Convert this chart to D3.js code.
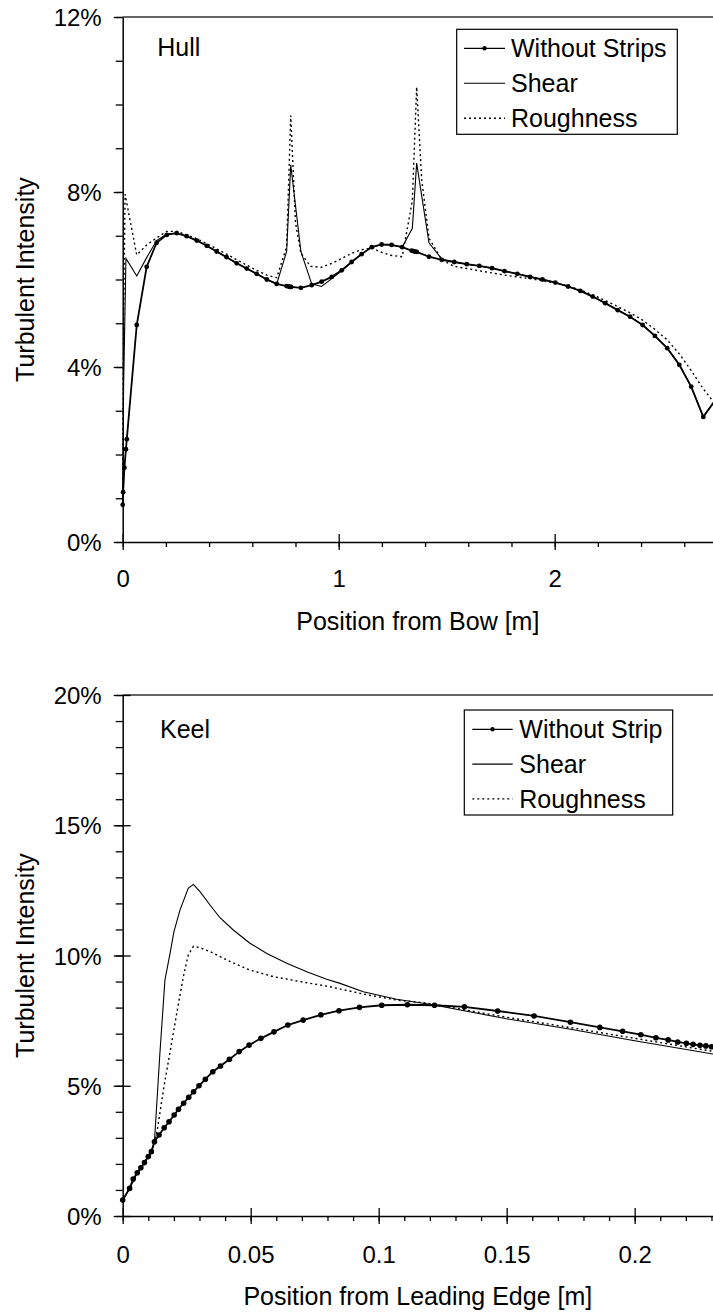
<!DOCTYPE html>
<html><head><meta charset="utf-8">
<script src="https://cdn.jsdelivr.net/npm/d3@7"></script>
<style>
html,body{margin:0;padding:0;background:#fff;}
svg{display:block;font-family:"Liberation Sans",Arial,sans-serif;}
</style></head>
<body>
<svg id="chart" width="713" height="1315"></svg>
<script>
// ---------- DATA ----------
// Hull panel: [position m, turbulent intensity %]
const hullWithout = [[0,0.85],[0.002,1.14],[0.008,1.70],[0.015,2.12],[0.019,2.35],[0.065,4.96],[0.111,6.29],[0.157,6.84],[0.204,7.02],[0.25,7.06],[0.296,6.99],[0.343,6.89],[0.389,6.77],[0.435,6.64],[0.481,6.51],[0.528,6.37],[0.574,6.25],[0.620,6.13],[0.667,6.00],[0.713,5.90],[0.759,5.85],[0.768,5.84],[0.775,5.83],[0.780,5.83],[0.825,5.81],[0.875,5.87],[0.921,5.95],[0.968,6.06],[1.014,6.21],[1.06,6.40],[1.106,6.58],[1.153,6.74],[1.199,6.80],[1.245,6.79],[1.294,6.74],[1.338,6.66],[1.345,6.65],[1.352,6.64],[1.361,6.63],[1.418,6.52],[1.477,6.45],[1.535,6.40],[1.593,6.35],[1.651,6.31],[1.710,6.26],[1.768,6.19],[1.827,6.13],[1.886,6.06],[1.944,6.00],[2.003,5.93],[2.062,5.84],[2.119,5.74],[2.176,5.61],[2.234,5.46],[2.292,5.30],[2.349,5.15],[2.407,4.96],[2.464,4.71],[2.521,4.43],[2.577,4.05],[2.632,3.55],[2.688,2.86],[2.745,3.25]];
const hullShear = [[0,0.85],[0.004,3.5],[0.015,6.48],[0.065,6.08],[0.111,6.5],[0.157,6.89],[0.204,7.04],[0.25,7.06],[0.296,6.99],[0.343,6.89],[0.389,6.77],[0.435,6.64],[0.481,6.51],[0.528,6.37],[0.574,6.25],[0.620,6.13],[0.667,6.00],[0.713,5.90],[0.759,6.64],[0.778,8.62],[0.825,6.64],[0.875,5.90],[0.921,5.84],[0.968,6.02],[1.014,6.20],[1.06,6.40],[1.106,6.58],[1.153,6.74],[1.199,6.80],[1.245,6.79],[1.294,6.74],[1.341,7.17],[1.361,8.66],[1.418,6.84],[1.477,6.47],[1.535,6.40],[1.593,6.35],[1.651,6.31],[1.710,6.26],[1.768,6.19],[1.827,6.13],[1.886,6.06],[1.944,6.00],[2.003,5.93],[2.062,5.84],[2.119,5.74],[2.176,5.61],[2.234,5.46],[2.292,5.30],[2.349,5.15],[2.407,4.96],[2.464,4.71],[2.521,4.43],[2.577,4.05],[2.632,3.55],[2.688,2.86],[2.745,3.25]];
const hullRough = [[0,0.85],[0.004,5.0],[0.011,7.95],[0.065,6.56],[0.111,6.79],[0.157,6.95],[0.204,7.10],[0.25,7.10],[0.296,7.02],[0.343,6.93],[0.389,6.82],[0.435,6.70],[0.481,6.58],[0.528,6.45],[0.574,6.33],[0.620,6.21],[0.667,6.10],[0.713,6.04],[0.759,6.75],[0.778,9.75],[0.80,7.3],[0.825,6.6],[0.87,6.3],[0.92,6.28],[0.968,6.37],[1.014,6.48],[1.06,6.6],[1.106,6.68],[1.153,6.72],[1.199,6.62],[1.245,6.55],[1.294,6.52],[1.341,7.8],[1.361,10.4],[1.384,8.3],[1.418,6.95],[1.477,6.45],[1.535,6.3],[1.593,6.25],[1.651,6.2],[1.710,6.15],[1.768,6.1],[1.827,6.06],[1.886,6.02],[1.944,5.97],[2.003,5.92],[2.062,5.85],[2.119,5.76],[2.176,5.65],[2.234,5.52],[2.292,5.38],[2.349,5.24],[2.407,5.07],[2.464,4.86],[2.521,4.62],[2.577,4.30],[2.632,3.92],[2.688,3.50],[2.733,3.22]];

// Keel panel
const keelWithout = [[0,0.61],[0.0027,1.06],[0.0041,1.42],[0.0057,1.66],[0.0071,1.85],[0.0085,2.05],[0.0100,2.28],[0.0112,2.47],[0.0124,2.85],[0.0142,3.11],[0.0162,3.39],[0.0181,3.62],[0.0201,3.88],[0.0218,4.10],[0.0238,4.33],[0.0258,4.56],[0.0277,4.77],[0.0298,5.00],[0.0323,5.25],[0.0352,5.54],[0.0382,5.76],[0.0417,6.02],[0.0455,6.31],[0.0494,6.56],[0.054,6.82],[0.0591,7.07],[0.0645,7.33],[0.0705,7.52],[0.0774,7.72],[0.0845,7.88],[0.0925,8.01],[0.1012,8.09],[0.1112,8.11],[0.1218,8.09],[0.1335,8.03],[0.1465,7.87],[0.1607,7.68],[0.1749,7.44],[0.1864,7.24],[0.1953,7.09],[0.2024,6.96],[0.2083,6.84],[0.2131,6.76],[0.2168,6.68],[0.2202,6.63],[0.2228,6.59],[0.2255,6.55],[0.2278,6.53],[0.2300,6.50]];
const keelShear = [[0,0.61],[0.0027,1.06],[0.0057,1.66],[0.0085,2.05],[0.0112,2.47],[0.0124,2.85],[0.0135,4.6],[0.0145,6.2],[0.0165,9.06],[0.0185,10.08],[0.02,10.91],[0.0224,11.75],[0.0256,12.58],[0.0276,12.73],[0.0302,12.45],[0.0341,11.94],[0.038,11.45],[0.0432,10.98],[0.0497,10.47],[0.0563,10.08],[0.0641,9.70],[0.0719,9.38],[0.0797,9.09],[0.0849,8.93],[0.094,8.61],[0.107,8.32],[0.12,8.13],[0.15,7.57],[0.175,7.17],[0.2,6.73],[0.2306,6.22]];
const keelRough = [[0,0.61],[0.0027,1.06],[0.0057,1.66],[0.0085,2.05],[0.0112,2.47],[0.0124,2.85],[0.0135,3.3],[0.016,4.9],[0.0185,6.3],[0.0211,7.78],[0.0237,9.19],[0.0256,10.02],[0.0276,10.35],[0.0302,10.3],[0.0341,10.15],[0.0406,9.83],[0.0497,9.44],[0.0588,9.19],[0.0693,9.0],[0.081,8.8],[0.094,8.52],[0.107,8.29],[0.119,8.17],[0.15,7.63],[0.175,7.23],[0.2,6.82],[0.2306,6.32]];

const hullXTicks = [0,1,2];
const hullYTicks = [0,4,8,12];
const keelXTicks = [0,0.05,0.1,0.15,0.2];
const keelYTicks = [0,5,10,15,20];
const hullLegend = ["Without Strips","Shear","Roughness"];
const keelLegend = ["Without Strip","Shear","Roughness"];

// ---------- DRAW ----------
const svg = d3.select("#chart");

function panel(o){
  const g = svg.append("g");
  const x = d3.scaleLinear().domain(o.xDomain).range([122.7,713]);
  const y = d3.scaleLinear().domain(o.yDomain).range([o.y0,o.y1]);
  const clipId = "clip"+o.id;
  svg.append("clipPath").attr("id",clipId).append("rect")
    .attr("x",100).attr("y",o.y1-20).attr("width",713-100).attr("height",o.y0-o.y1+40);

  // top border
  g.append("line").attr("x1",122.7).attr("x2",713).attr("y1",o.y1).attr("y2",o.y1)
    .attr("stroke","#333").attr("stroke-width",1.3);

  // minor ticks
  g.append("g").attr("transform",`translate(0,${o.y0})`)
    .call(d3.axisBottom(x).tickValues(o.xMinor).tickSize(5).tickFormat(""))
    .call(s=>s.select(".domain").remove());
  g.append("g").attr("transform",`translate(122.7,0)`)
    .call(d3.axisLeft(y).tickValues(o.yMinor).tickSize(7).tickFormat(""))
    .call(s=>s.select(".domain").remove());
  // major inner ticks (crossing)
  g.append("g").attr("transform",`translate(0,${o.y0})`)
    .call(d3.axisBottom(x).tickValues(o.xTicks).tickSize(-8).tickFormat(""))
    .call(s=>s.select(".domain").remove());
  if(o.yCross){
    g.append("g").attr("transform",`translate(122.7,0)`)
      .call(d3.axisLeft(y).tickValues(o.yTicks).tickSize(-8).tickFormat(""))
      .call(s=>s.select(".domain").remove());
  }
  // major axes
  const xa = g.append("g").attr("transform",`translate(0,${o.y0})`)
    .call(d3.axisBottom(x).tickValues(o.xTicks).tickSize(8).tickSizeOuter(0).tickPadding(o.xPad).tickFormat(o.xFmt));
  const ya = g.append("g").attr("transform",`translate(122.7,0)`)
    .call(d3.axisLeft(y).tickValues(o.yTicks).tickSize(9).tickSizeOuter(0).tickPadding(12).tickFormat(d=>d+"%"));
  [xa,ya].forEach(a=>{
    a.selectAll("text").attr("font-size",24).attr("font-family","Liberation Sans, Arial, sans-serif").attr("fill","#000");
    a.selectAll("line").attr("stroke","#000").attr("stroke-width",1.3);
    a.select(".domain").attr("stroke","#000").attr("stroke-width",1.5);
  });
  ya.selectAll("text").attr("dy","0.36em");
  g.selectAll(".tick line").attr("stroke","#000").attr("stroke-width",1.3);

  // titles
  g.append("text").attr("x",(122.7+713)/2).attr("y",o.xTitleY).attr("text-anchor","middle")
    .attr("font-size",25).text(o.xTitle);
  g.append("text").attr("transform",`translate(34,${(o.y0+o.y1)/2}) rotate(-90)`)
    .attr("text-anchor","middle").attr("font-size",25).text("Turbulent Intensity");
  g.append("text").attr("x",o.nameX).attr("y",o.nameY).attr("font-size",25).text(o.name);

  // series
  const line = d3.line().x(d=>x(d[0])).y(d=>y(d[1]));
  const sg = g.append("g").attr("clip-path",`url(#${clipId})`);
  sg.append("path").datum(o.rough).attr("d",line).attr("fill","none")
    .attr("stroke","#000").attr("stroke-width",1.4).attr("stroke-dasharray","2,3");
  sg.append("path").datum(o.shear).attr("d",line).attr("fill","none")
    .attr("stroke","#000").attr("stroke-width",1.1);
  sg.append("path").datum(o.without).attr("d",line).attr("fill","none")
    .attr("stroke","#000").attr("stroke-width",1.8);
  sg.selectAll("circle").data(o.without).join("circle")
    .attr("cx",d=>x(d[0])).attr("cy",d=>y(d[1])).attr("r",o.r).attr("fill","#000");

  // legend
  const L = o.legend;
  g.append("rect").attr("x",L.x0).attr("y",L.y0).attr("width",L.x1-L.x0).attr("height",L.y1-L.y0)
    .attr("fill","#fff").attr("stroke","#000").attr("stroke-width",1.2);
  o.legendLabels.forEach((lab,i)=>{
    const cy = L.row0 + i*L.step;
    const ln = g.append("line").attr("x1",L.s0).attr("x2",L.s1).attr("y1",cy).attr("y2",cy)
      .attr("stroke","#000");
    if(i===0){ ln.attr("stroke-width",1.3);
      g.append("circle").attr("cx",(L.s0+L.s1)/2).attr("cy",cy).attr("r",2.2).attr("fill","#000"); }
    if(i===1) ln.attr("stroke-width",1.1);
    if(i===2) ln.attr("stroke-width",1.4).attr("stroke-dasharray","2,3");
    g.append("text").attr("x",L.tx).attr("y",cy+9).attr("font-size",25).text(lab);
  });
}

panel({id:"hull", xDomain:[0,2.733], yDomain:[0,12], y0:542, y1:17,
  xTicks:hullXTicks, yTicks:hullYTicks, xMinor:d3.range(0,2.75,0.2), yMinor:d3.range(0,12.5,1),
  xFmt:d=>String(d), xPad:20, yCross:false,
  xTitle:"Position from Bow [m]", xTitleY:630, name:"Hull", nameX:157.3, nameY:55.7,
  without:hullWithout, shear:hullShear, rough:hullRough, r:2.4,
  legendLabels:hullLegend,
  legend:{x0:456.7,x1:677.3,y0:29.3,y1:134.3,row0:48.3,step:35,s0:464,s1:505,tx:511}
});

panel({id:"keel", xDomain:[0,0.2306], yDomain:[0,20], y0:1216, y1:695,
  xTicks:keelXTicks, yTicks:keelYTicks, xMinor:d3.range(0,0.231,0.01), yMinor:d3.range(0,20.5,1),
  xFmt:d=>String(d), xPad:22, yCross:true,
  xTitle:"Position from Leading Edge [m]", xTitleY:1305, name:"Keel", nameX:160, nameY:738.3,
  without:keelWithout, shear:keelShear, rough:keelRough, r:2.8,
  legendLabels:keelLegend,
  legend:{x0:464.3,x1:672.7,y0:710,y1:815,row0:729.3,step:34.8,s0:472.3,s1:512.7,tx:519.3}
});
</script>
</body></html>
